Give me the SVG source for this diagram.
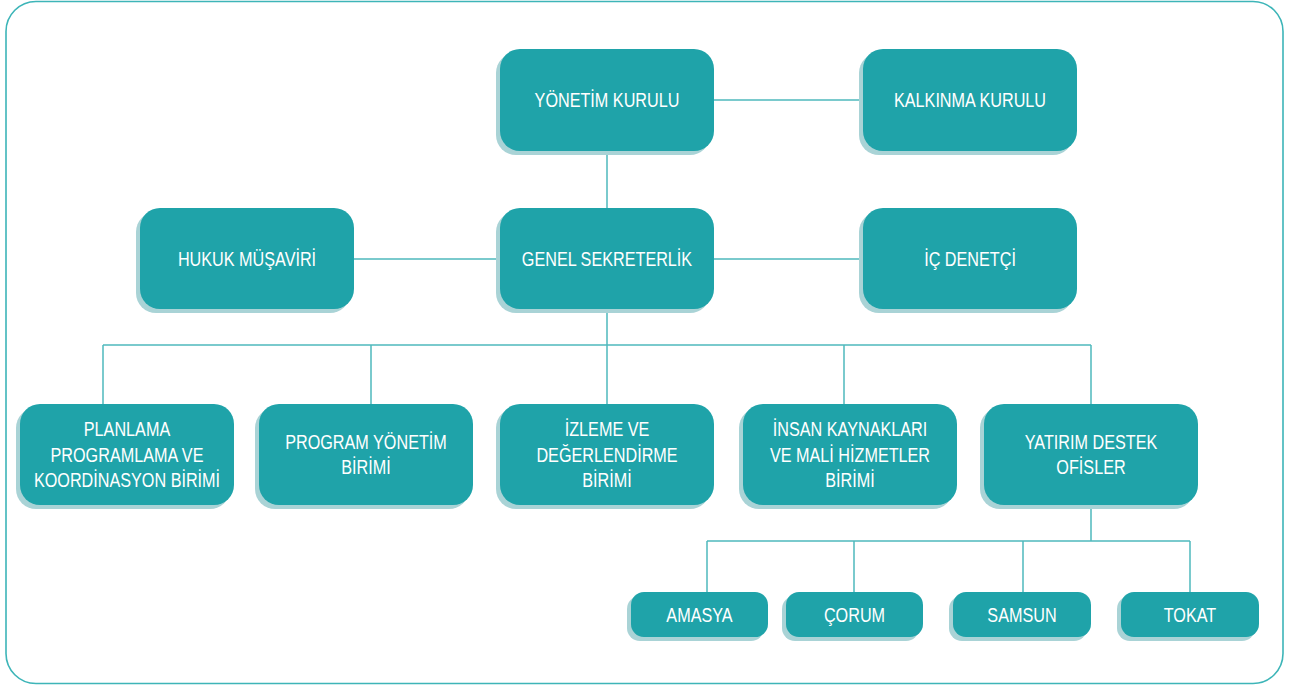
<svg xmlns="http://www.w3.org/2000/svg" width="1296" height="686" viewBox="0 0 1296 686">
<defs>
<style>
.frame{fill:#ffffff;stroke:#3db5b8;stroke-width:1.6}
.box{fill:#1fa3a9}
.sh{fill:#a9d3d6}
.ln{fill:none;stroke:#4fb9bd;stroke-width:1.5}
.t{fill:#ffffff;font-family:"Liberation Sans",Arial,sans-serif;font-size:20px;text-anchor:middle}
</style>
</defs>
<rect class="frame" x="6" y="1.5" width="1277" height="682" rx="30"/>
<g id="connectors">
<path class="ln" d="M714 100H863M607 151V208M354 259H500M714 259H863M607 309V345M103 345H1091M103 345V404M371 345V404M607 345V404M844 345V404M1091 345V404M1091 505V541M707 541H1190M707 541V592M854 541V592M1023 541V592M1190 541V592"/>
</g>
<g id="yonetim-kurulu">
<rect class="sh" x="496" y="53" width="214" height="102" rx="20"/>
<rect class="box" x="500" y="49" width="214" height="102" rx="20"/>
<text class="t" transform="translate(607 107) scale(0.81 1)">YÖNETİM KURULU</text>
</g>
<g id="kalkinma-kurulu">
<rect class="sh" x="859" y="53" width="214" height="102" rx="20"/>
<rect class="box" x="863" y="49" width="214" height="102" rx="20"/>
<text class="t" transform="translate(970 107) scale(0.81 1)">KALKINMA KURULU</text>
</g>
<g id="hukuk-musaviri">
<rect class="sh" x="136" y="212" width="214" height="101" rx="20"/>
<rect class="box" x="140" y="208" width="214" height="101" rx="20"/>
<text class="t" transform="translate(247 266) scale(0.81 1)">HUKUK MÜŞAVİRİ</text>
</g>
<g id="genel-sekreterlik">
<rect class="sh" x="496" y="212" width="214" height="101" rx="20"/>
<rect class="box" x="500" y="208" width="214" height="101" rx="20"/>
<text class="t" transform="translate(607 266) scale(0.81 1)">GENEL SEKRETERLİK</text>
</g>
<g id="ic-denetci">
<rect class="sh" x="859" y="212" width="214" height="101" rx="20"/>
<rect class="box" x="863" y="208" width="214" height="101" rx="20"/>
<text class="t" transform="translate(970 266) scale(0.81 1)">İÇ DENETÇİ</text>
</g>
<g id="planlama">
<rect class="sh" x="16" y="408" width="214" height="101" rx="20"/>
<rect class="box" x="20" y="404" width="214" height="101" rx="20"/>
<text class="t" transform="translate(127 436) scale(0.81 1)">PLANLAMA</text>
<text class="t" transform="translate(127 461.5) scale(0.81 1)">PROGRAMLAMA VE</text>
<text class="t" transform="translate(127 487) scale(0.81 1)">KOORDİNASYON BİRİMİ</text>
</g>
<g id="program-yonetim">
<rect class="sh" x="255" y="408" width="214" height="101" rx="20"/>
<rect class="box" x="259" y="404" width="214" height="101" rx="20"/>
<text class="t" transform="translate(366 448.5) scale(0.81 1)">PROGRAM YÖNETİM</text>
<text class="t" transform="translate(366 474) scale(0.81 1)">BİRİMİ</text>
</g>
<g id="izleme">
<rect class="sh" x="496" y="408" width="214" height="101" rx="20"/>
<rect class="box" x="500" y="404" width="214" height="101" rx="20"/>
<text class="t" transform="translate(607 436) scale(0.81 1)">İZLEME VE</text>
<text class="t" transform="translate(607 461.5) scale(0.81 1)">DEĞERLENDİRME</text>
<text class="t" transform="translate(607 487) scale(0.81 1)">BİRİMİ</text>
</g>
<g id="insan-kaynaklari">
<rect class="sh" x="739" y="408" width="214" height="101" rx="20"/>
<rect class="box" x="743" y="404" width="214" height="101" rx="20"/>
<text class="t" transform="translate(850 436) scale(0.81 1)">İNSAN KAYNAKLARI</text>
<text class="t" transform="translate(850 461.5) scale(0.81 1)">VE MALİ HİZMETLER</text>
<text class="t" transform="translate(850 487) scale(0.81 1)">BİRİMİ</text>
</g>
<g id="yatirim-destek">
<rect class="sh" x="980" y="408" width="214" height="101" rx="20"/>
<rect class="box" x="984" y="404" width="214" height="101" rx="20"/>
<text class="t" transform="translate(1091 448.5) scale(0.81 1)">YATIRIM DESTEK</text>
<text class="t" transform="translate(1091 474) scale(0.81 1)">OFİSLER</text>
</g>
<g id="amasya">
<rect class="sh" x="627" y="596" width="137" height="45" rx="13"/>
<rect class="box" x="631" y="592" width="137" height="45" rx="13"/>
<text class="t" transform="translate(699.5 622) scale(0.81 1)">AMASYA</text>
</g>
<g id="corum">
<rect class="sh" x="782" y="596" width="137" height="45" rx="13"/>
<rect class="box" x="786" y="592" width="137" height="45" rx="13"/>
<text class="t" transform="translate(854.5 622) scale(0.81 1)">ÇORUM</text>
</g>
<g id="samsun">
<rect class="sh" x="949" y="596" width="138" height="45" rx="13"/>
<rect class="box" x="953" y="592" width="138" height="45" rx="13"/>
<text class="t" transform="translate(1022 622) scale(0.81 1)">SAMSUN</text>
</g>
<g id="tokat">
<rect class="sh" x="1117" y="596" width="138" height="45" rx="13"/>
<rect class="box" x="1121" y="592" width="138" height="45" rx="13"/>
<text class="t" transform="translate(1190 622) scale(0.81 1)">TOKAT</text>
</g>
</svg>
